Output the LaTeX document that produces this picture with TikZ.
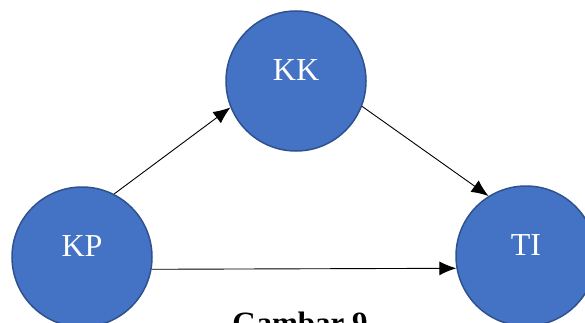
\documentclass[tikz,border=0pt]{standalone}
\usepackage{fontspec}
\setmainfont{Liberation Serif}
\usepackage{tikz}
\usetikzlibrary{arrows.meta}

\definecolor{varfill}{HTML}{4472C4}
\definecolor{varline}{HTML}{2F528F}

\tikzset{
  var/.style={circle,draw=varline,line width=1.5pt,fill=varfill,minimum size=140pt,inner sep=0pt},
  varname/.style={label={[yshift=11pt,text=white,font=\fontsize{32}{38}\selectfont]center:#1}},
  path/.style={->,line width=0.9pt}
}

\begin{document}
\begin{tikzpicture}[x=1pt,y=-1pt,>={Latex[length=17pt,width=14pt]}]
	\useasboundingbox (0,0) rectangle (585,323);
		\node[var,varname=KK] (kk) at (296,81)  {};
		\node[var,varname=KP] (kp) at (82,257)  {};
		\node[var,varname=TI] (ti) at (526,256) {};

		\draw[path] (kp.63)  -- (kk.202);
		\draw[path] (kk.-21) -- (ti.122);
		\draw[path] (kp.-10) -- (ti.190);

		\node[font=\bfseries\fontsize{31}{36}\selectfont,anchor=base] (cap) at (300,333) {Gambar 9};
	\end{tikzpicture}
\end{document}
